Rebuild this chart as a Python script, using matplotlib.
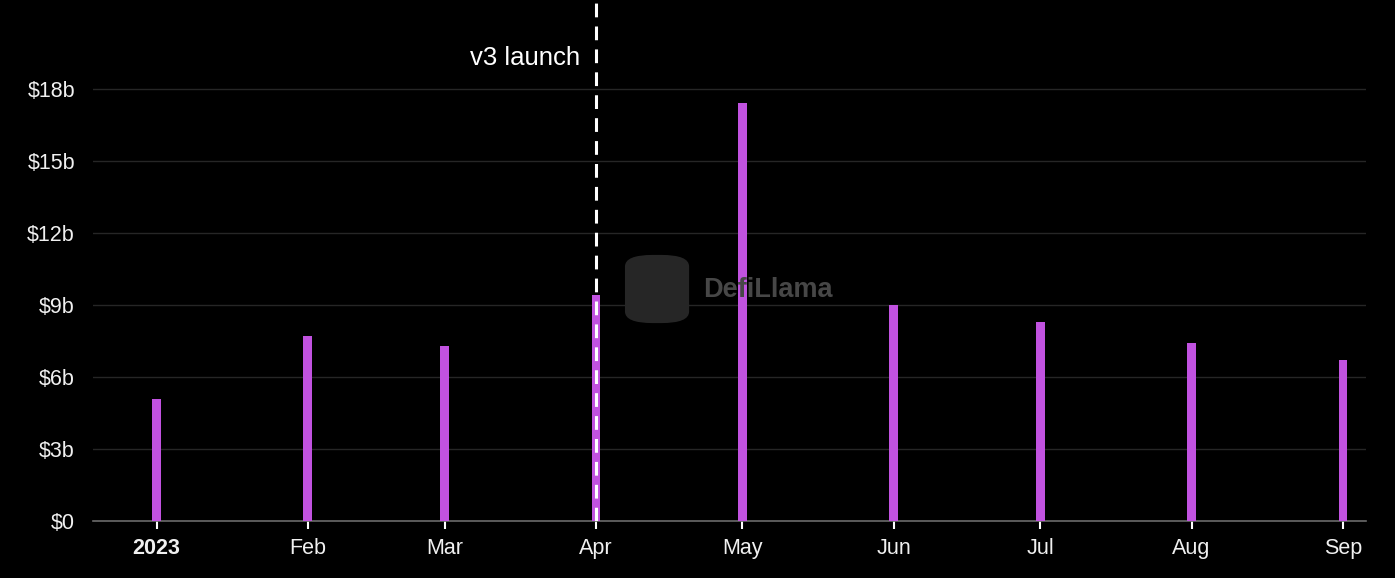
import matplotlib.pyplot as plt
import matplotlib.patches as mpatches
import numpy as np
import pandas as pd

plt.rcParams['font.family'] = ['Liberation Sans', 'DejaVu Sans']

# monthly volume, billions of USD
months = pd.to_datetime(['2023-01-01', '2023-02-01', '2023-03-01', '2023-04-01', '2023-05-01',
                         '2023-06-01', '2023-07-01', '2023-08-01', '2023-09-01'])
volume = [5.1, 7.7, 7.3, 9.4, 17.4, 9.0, 8.3, 7.4, 6.7]
tick_labels = ['2023', 'Feb', 'Mar', 'Apr', 'May', 'Jun', 'Jul', 'Aug', 'Sep']
y_ticks = [0, 3, 6, 9, 12, 15, 18]
y_labels = ['$0', '$3b', '$6b', '$9b', '$12b', '$15b', '$18b']
launch = pd.Timestamp('2023-04-01')

fig = plt.figure(figsize=(13.95, 5.78), dpi=100, facecolor='black')
ax = fig.add_axes([0.0667, 0.0986, 0.9123, 0.9014])
ax.set_facecolor('black')

# watermark (behind the bars)
logo = mpatches.FancyBboxPatch((0.452, 0.445), 0.038, 0.11, boxstyle='round,pad=0.004,rounding_size=0.02',
                               transform=fig.transFigure, facecolor='#262626', edgecolor='none', zorder=1)
fig.patches.append(logo)
fig.text(0.504, 0.499, 'DefiLlama', color='#474747', fontsize=19.5, fontweight='bold',
         ha='left', va='center', zorder=1)

ax.bar(months, volume, width=1.8, color='#c152e0', zorder=3)

ax.set_xlim(pd.Timestamp('2022-12-19'), pd.Timestamp('2023-09-05 16:00'))
ax.set_ylim(0, 21.7)

ax.set_yticks(y_ticks)
ax.set_yticklabels(y_labels)
ax.set_xticks(months)
ax.set_xticklabels(tick_labels)
ax.get_xticklabels()[0].set_fontweight('bold')

ax.tick_params(axis='y', length=0, pad=13, labelsize=15.5, colors='#f0f0f0')
ax.tick_params(axis='x', length=6, width=1.5, color='white', pad=6,
               labelsize=15.5, labelcolor='#f0f0f0')

ax.grid(axis='y', color='#262626', linewidth=1, zorder=0)
for s in ['top', 'right', 'left']:
    ax.spines[s].set_visible(False)
ax.spines['bottom'].set_color('#6a6a6a')
ax.spines['bottom'].set_linewidth(1.2)

ax.axvline(launch, color='white', linestyle=(0, (4.5, 3)), linewidth=2.2, zorder=4)
ax.text(launch - pd.Timedelta(days=3.2), 19.3, 'v3 launch', color='white',
        fontsize=18.5, ha='right', va='center')

ax.patch.set_alpha(0)
fig.savefig('out.png', dpi=100, facecolor='black')
